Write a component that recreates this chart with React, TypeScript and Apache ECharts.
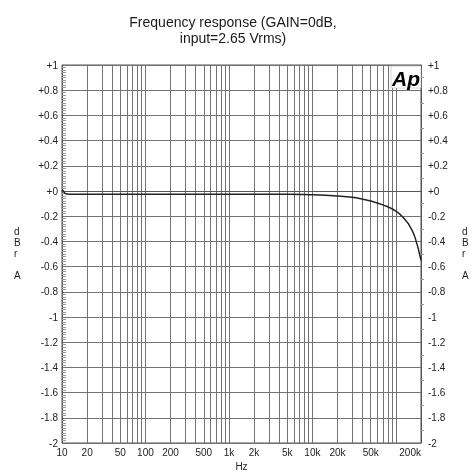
import React, { useEffect, useRef } from "react";
import * as echarts from "echarts";

const gridFreqs = [
  10, 20, 30, 40, 50, 60, 70, 80, 90,
  100, 200, 300, 400, 500, 600, 700, 800, 900,
  1000, 2000, 3000, 4000, 5000, 6000, 7000, 8000, 9000,
  10000, 20000, 30000, 40000, 50000, 60000, 70000, 80000, 90000,
  100000, 200000,
];
const labelFreqs = [10, 20, 50, 100, 200, 500, 1000, 2000, 5000, 10000, 20000, 50000, 200000];
const labelTexts = ["10", "20", "50", "100", "200", "500", "1k", "2k", "5k", "10k", "20k", "50k", "200k"];

const curveFreqs = [10, 10.5, 11, 12, 15, 20, 100, 1000, 5000, 10000, 20000, 30000, 40000, 50000, 70000, 100000, 130000, 150000, 170000, 200000];
const curveDb = [0.01, -0.005, -0.02, -0.025, -0.025, -0.025, -0.025, -0.025, -0.025, -0.03, -0.04, -0.05, -0.065, -0.08, -0.11, -0.16, -0.23, -0.29, -0.37, -0.55];

const yMin = -2;
const yMax = 1;
const yStep = 0.2;

const fmtY = (v: number) => {
  const r = Math.round(v * 10) / 10;
  if (r === 0) return "+0";
  return r > 0 ? "+" + r : String(r);
};

const lg = (f: number) => Math.log10(f);

export default function App() {
  const ref = useRef<HTMLDivElement>(null);
  useEffect(() => {
    if (!ref.current) return;
    const chart = echarts.init(ref.current, null, { renderer: "svg" });
    const font = "Liberation Sans, Arial, sans-serif";
    const labelFmt = (v: number) => {
      const i = labelFreqs.findIndex((f) => Math.abs(lg(f) - v) < 1e-6);
      return i >= 0 ? labelTexts[i] : "";
    };
    chart.setOption({
      animation: false,
      textStyle: { fontFamily: font },
      title: {
        text: "Frequency response (GAIN=0dB,\ninput=2.65 Vrms)",
        left: 228,
        top: 9,
        textAlign: "center",
        textStyle: { fontSize: 14, fontWeight: "normal", color: "#1a1a1a", lineHeight: 16, fontFamily: font },
      },
      grid: {
        left: 62, right: 52, top: 65, bottom: 29,
        outerBoundsMode: "none",
        containLabel: false,
        show: true, borderColor: "#555", borderWidth: 1, backgroundColor: "transparent",
      },
      xAxis: {
        type: "value",
        min: lg(10),
        max: lg(200000),
        name: "Hz",
        nameLocation: "middle",
        nameGap: 17,
        nameTextStyle: { fontSize: 10, color: "#222", fontFamily: font },
        axisLine: { show: true, lineStyle: { color: "#555", width: 1 } },
        axisTick: { show: false, customValues: gridFreqs.map(lg) },
        axisLabel: {
          customValues: labelFreqs.map(lg),
          formatter: labelFmt,
          fontSize: 10,
          color: "#222",
          margin: 4,
          alignMaxLabel: "right",
          fontFamily: font,
        },
        splitLine: { show: true, lineStyle: { color: "#737373", width: 1 } },
      },
      yAxis: [
        {
          type: "value",
          min: yMin,
          max: yMax,
          interval: yStep,
          axisLine: { show: true, lineStyle: { color: "#555" } },
          axisTick: { show: false, inside: true },
          minorTick: { show: true, splitNumber: 10, length: 4, lineStyle: { color: "#999" } },
          axisLabel: { formatter: fmtY, fontSize: 10, color: "#222", margin: 4, fontFamily: font },
          splitLine: { show: true, lineStyle: { color: "#737373", width: 1 } },
        },
        {
          type: "value",
          position: "right",
          min: yMin,
          max: yMax,
          interval: yStep,
          axisLine: { show: true, lineStyle: { color: "#555" } },
          axisTick: { show: false },
          minorTick: { show: true, splitNumber: 2, length: 3, lineStyle: { color: "#999" } },
          axisLabel: { formatter: fmtY, fontSize: 10, color: "#222", margin: 7, fontFamily: font },
          splitLine: { show: false },
        },
      ],
      graphic: [
        { type: "text", left: 14, top: 226, style: { text: "d\nB\nr\n\nA", fontSize: 10, lineHeight: 11, fill: "#222", align: "center", font: "10px " + font } },
        { type: "text", left: 462, top: 226, style: { text: "d\nB\nr\n\nA", fontSize: 10, lineHeight: 11, fill: "#222", align: "center", font: "10px " + font } },
        { type: "rect", shape: { x: 391, y: 66, width: 30, height: 22 }, style: { fill: "#fff", stroke: "#aaa", lineWidth: 0.5 }, z: 100 },
        { type: "text", x: 406, y: 78, style: { text: "Ap", fill: "#000", align: "center", verticalAlign: "middle", font: "italic bold 21px " + font }, z: 101 },
      ],
      series: [
        {
          type: "line",
          yAxisIndex: 0,
          data: curveFreqs.map((f, i) => [lg(f), curveDb[i]]),
          smooth: true,
          showSymbol: false,
          lineStyle: { color: "#222", width: 1.5 },
          z: 5,
        },
      ],
    });
    return () => chart.dispose();
  }, []);
  return <div ref={ref} style={{ position: "fixed", left: 0, top: 0, width: 473, height: 472 }} />;
}
